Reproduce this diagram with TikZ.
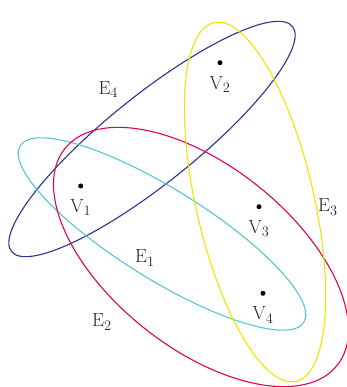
\documentclass[tikz,border=0pt]{standalone}
\usepackage{tikz}
\usetikzlibrary{positioning}
\definecolor{edgeNavy}{RGB}{40, 52, 142}
\definecolor{edgeCyan}{RGB}{86, 196, 210}
\definecolor{edgeCrimson}{RGB}{228, 0, 78}
\definecolor{edgeYellow}{RGB}{240, 228, 0}

\begin{document}
\begin{tikzpicture}[
    x=1pt, y=1pt,
    font=\fontsize{19}{19}\selectfont,
    hedge/.style={line width=1.1pt},
    dot/.style={circle, fill=black, inner sep=0pt, minimum size=5pt},
    lbl/.style={inner sep=0pt, text=black!85}
]
\useasboundingbox (0,0) rectangle (346,387);

% hyperedges
\draw[hedge, edgeNavy, shift={(152,248)}, rotate=38.7] (0,0) ellipse [x radius=180, y radius=44];
\draw[hedge, edgeCyan, shift={(162,153)}, rotate=-31.9] (0,0) ellipse [x radius=167, y radius=45];
\draw[hedge, edgeCrimson, shift={(201,130)}, rotate=-38.5] (0,0) ellipse [x radius=174, y radius=91];
\draw[hedge, edgeYellow, shift={(255,185)}, rotate=12.9] (0,0) ellipse [x radius=59, y radius=184];

% vertices
\foreach \n/\x/\y in {1/80.7/201, 2/220/324.3, 3/259/180.3, 4/263/93.7} {
    \node[dot] (v\n) at (\x,\y) {};
    \node[lbl, below=10.5pt of v\n] (v\n lbl) {V$_\n$};
}

% edge labels
\node[lbl, anchor=base west] (e1) at (135,124) {E$_1$};
\node[lbl, anchor=base west] (e2) at (92,60) {E$_2$};
\node[lbl, anchor=base west] (e3) at (318,175) {E$_3$};
\node[lbl, anchor=base west] (e4) at (98.3,292.7) {E$_4$};
\end{tikzpicture}
\end{document}
